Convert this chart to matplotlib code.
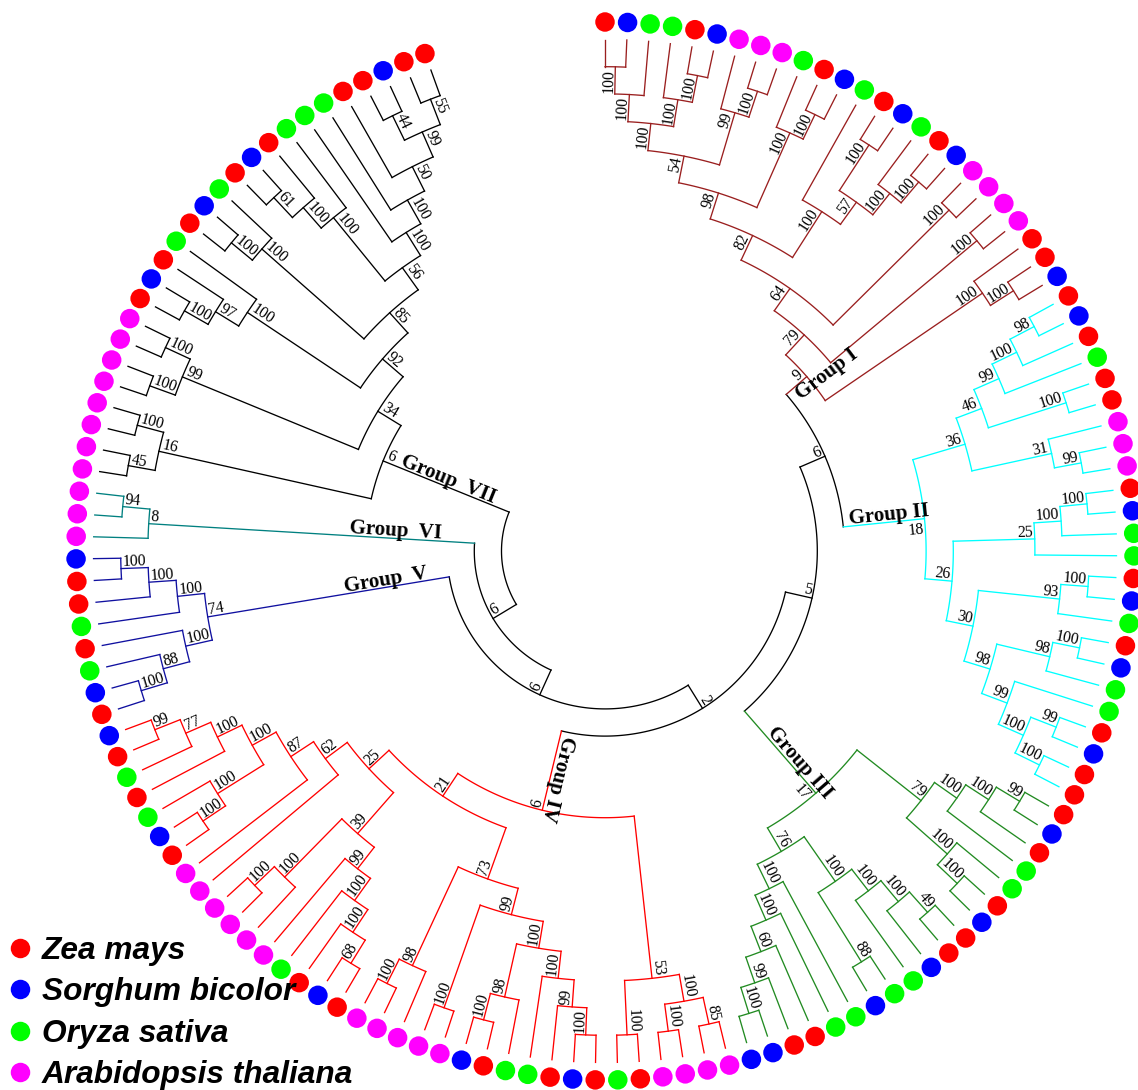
import numpy as np
import matplotlib
matplotlib.use("Agg")
import matplotlib.pyplot as plt
from matplotlib.collections import LineCollection
from matplotlib.lines import Line2D
from matplotlib.font_manager import FontProperties

# ---------------- data ----------------
SPECIES_CODES = ["Z", "S", "O", "A"]
SPECIES_NAMES = ["Zea mays", "Sorghum bicolor", "Oryza sativa", "Arabidopsis thaliana"]
SPECIES_COLORS = ["#FF0000", "#0000FF", "#00FF00", "#FF00FF"]

GROUP_KEYS = ["I", "II", "III", "IV", "V", "VI", "VII"]
GROUP_TITLES = ["Group I", "Group II", "Group III", "Group IV",
                "Group  V", "Group  VI", "Group  VII"]
GROUP_COLORS = ["#9A1F1F", "#00FFFF", "#228B22", "#FF0000",
                "#1010A0", "#008080", "#000000"]

# subtrees (leaf = species code, internal label = bootstrap), leaves in clockwise order
GROUP_I = ("(((((((((Z,S)100,O)100,(O,(Z,S)100)100)100,(A,(A,A)100)99)54,(O,(Z,S)100)100)98,"
           "(O,((Z,S)100,(O,(Z,S)100)100)57)100)82,(A,A)100)64,(A,A)100)79,(Z,(Z,S)100)100)9")
GROUP_II = ("((((((Z,S)98,Z)100,O)99,(Z,Z)100)46,(A,(A,A)99)31)36,"
            "((((Z,S)100,O)100,O)25,(((Z,S)100,O)93,(((Z,S)100,O)98,"
            "(O,((Z,S)99,(Z,Z)100)100)99)98)30)26)18")
GROUP_III = ("(((((Z,S)99,Z)100,O)100,(O,(Z,S)100)100)79,"
             "(((((Z,Z)49,S)100,O)100,(O,S)88)100,(O,(O,(Z,(Z,(S,S)100)99)60)100)100)76)17")
GROUP_IV = ("((((A,A)85,(A,A)100)100,(Z,O)100)53,"
            "(((((((Z,S)100,Z)99,O)100,(O,(Z,S)100)98)100,(A,A)100)99,(A,(A,A)100)98)73,"
            "((((((Z,S)68,Z)100,O)100,A)99,(A,(A,A)100)100)39,"
            "(A,(A,(((Z,S)100,O)100,(Z,(O,(Z,S)99)77)100)100)87)62)25)21)6")
GROUP_V = "((((Z,S)100,O)88,Z)100,(O,(Z,(Z,S)100)100)100)74"
GROUP_VI = "(A,(A,A)94)8"
GROUP_VII = ("(((A,A)45,(A,A)100)16,(((A,A)100,(A,A)100)99,"
             "((((Z,S)100,Z)97,O)100,(((Z,S)100,O)100,"
             "((((Z,S)61,Z)100,O)100,(O,(O,(Z,((Z,S)44,(Z,Z)55)99)50)100)100)56)85)92)34)6")
GROUP_TREES = [GROUP_I, GROUP_II, GROUP_III, GROUP_IV, GROUP_V, GROUP_VI, GROUP_VII]

BACKBONE = "((((((I,II)6,III)5,IV)2,V)6,VI)6,VII)"

# ---------------- layout / style ----------------
W, H = 1138, 1090
CX, CY = 605.0, 551.0
R_TIP = 511.5
STEP = 27.2
R_DOT = 529.0
DOT_DIAM_PX = 19.5
SPAN_DEG = 340.1
LW = 0.95
BOOT_FONT = dict(family="Liberation Serif", size=11.3)
GROUP_FONT = dict(family="Liberation Serif", size=15, weight="bold")
GROUP_LABEL_R = {"I": 283, "II": 286, "III": 288, "IV": 233, "V": 221, "VI": 210, "VII": 172}
GROUP_LABEL_DTHETA = {"I": 3.8}
GROUP_LABEL_FLIP = {"I": False, "II": False, "III": False, "IV": False,
                    "V": True, "VI": True, "VII": True}
ROOT_LABEL_OTHER_SIDE = {"II", "III"}


def parse_newick(s):
    s = s.strip().rstrip(";")
    pos = 0

    def label():
        nonlocal pos
        st = pos
        while pos < len(s) and s[pos] not in "(),":
            pos += 1
        return s[st:pos].strip()

    def node():
        nonlocal pos
        if s[pos] == "(":
            pos += 1
            kids = [node()]
            while s[pos] == ",":
                pos += 1
                kids.append(node())
            pos += 1
            return {"kids": kids, "label": label(), "group": None}
        return {"kids": [], "label": label(), "group": None}

    return node()


def mark(n, g):
    n["group"] = g
    for k in n["kids"]:
        mark(k, g)


root = parse_newick(BACKBONE)
group_roots = {}


def graft(n):
    for i, k in enumerate(n["kids"]):
        if not k["kids"] and k["label"] in GROUP_KEYS:
            g = GROUP_KEYS.index(k["label"])
            sub = parse_newick(GROUP_TREES[g])
            mark(sub, g)
            sub["is_group_root"] = True
            group_roots[g] = sub
            n["kids"][i] = sub
        else:
            graft(k)


graft(root)

leaves = []


def collect(n):
    if not n["kids"]:
        leaves.append(n)
    for k in n["kids"]:
        collect(k)


collect(root)
N = len(leaves)
for i, lf in enumerate(leaves):
    lf["theta"] = i * SPAN_DEG / (N - 1)


def layout(n):
    if not n["kids"]:
        n["h"] = 0
        n["r"] = R_TIP
        return
    for k in n["kids"]:
        layout(k)
    n["h"] = 1 + max(k["h"] for k in n["kids"])
    n["r"] = R_TIP - STEP * n["h"]
    n["theta"] = float(np.mean([k["theta"] for k in n["kids"]]))


layout(root)


def xy(theta_deg, r):
    t = np.deg2rad(theta_deg)
    return CX + r * np.sin(t), CY - r * np.cos(t)


fig = plt.figure(figsize=(W / 100, H / 100), dpi=100)
ax = fig.add_axes([0, 0, 1, 1])
ax.set_xlim(0, W)
ax.set_ylim(H, 0)
ax.set_aspect("equal")
ax.axis("off")

segs, cols = [], []
labels = []


def draw(n, parent_r=None):
    col = GROUP_COLORS[n["group"]] if n["group"] is not None else "black"
    if parent_r is not None:
        x0, y0 = xy(n["theta"], parent_r)
        x1, y1 = xy(n["theta"], n["r"])
        segs.append([(x0, y0), (x1, y1)])
        cols.append(col)
    if n["kids"]:
        a0, a1 = n["kids"][0]["theta"], n["kids"][-1]["theta"]
        ts = np.linspace(a0, a1, max(2, int(abs(a1 - a0) / 0.3) + 2))
        xs, ys = xy(ts, n["r"])
        segs.append(np.column_stack([xs, ys]))
        cols.append(col)
        if parent_r is not None and n["label"]:
            other = bool(n.get("is_group_root")) and GROUP_KEYS[n["group"]] in ROOT_LABEL_OTHER_SIDE
            labels.append((n["label"], n["theta"], n["r"], other))
        for k in n["kids"]:
            draw(k, n["r"])


draw(root)
ax.add_collection(LineCollection(segs, colors=cols, linewidths=LW, capstyle="projecting"))


def radial_text(text, theta, r_anchor, flip, anchor_end, off, font, other_side=False):
    th = theta % 360
    t = np.deg2rad(th)
    rot = 90 - th
    if flip:
        rot += 180
        up = (np.cos(t), np.sin(t))
    else:
        up = (-np.cos(t), -np.sin(t))
    rot = (rot + 180) % 360 - 180
    x, y = xy(th, r_anchor)
    sgn = -1.0 if other_side else 1.0
    x += sgn * off * up[0]
    y += sgn * off * up[1]
    if anchor_end:
        ha = "left" if flip else "right"
    else:
        ha = "center"
    ax.text(x, y, text, rotation=rot, rotation_mode="anchor", ha=ha,
            va="top" if other_side else "baseline", color="black", **font)


for lab, th, r, other in labels:
    flip = 180.0 < (th % 360) < 360.0
    radial_text(lab, th, r - 2.0, flip, True, 2.5, BOOT_FONT, other_side=other)

for g, key in enumerate(GROUP_KEYS):
    n = group_roots[g]
    th = n["theta"] + GROUP_LABEL_DTHETA.get(key, 0.0)
    radial_text(GROUP_TITLES[g], th, GROUP_LABEL_R[key], GROUP_LABEL_FLIP[key],
                False, 2.5, GROUP_FONT)

# leaf dots
lx, ly, lc = [], [], []
for lf in leaves:
    x, y = xy(lf["theta"], R_DOT)
    lx.append(x)
    ly.append(y)
    lc.append(SPECIES_COLORS[SPECIES_CODES.index(lf["label"])])
s_pt = (DOT_DIAM_PX * 72 / 100) ** 2
ax.scatter(lx, ly, s=s_pt, c=lc, edgecolors="none", zorder=3, clip_on=False)

# legend
handles = [Line2D([], [], linestyle="none", marker="o", markersize=DOT_DIAM_PX * 0.72,
                  markerfacecolor=c, markeredgecolor="none") for c in SPECIES_COLORS]
ax.legend(handles, SPECIES_NAMES, loc="lower left", bbox_to_anchor=(4.0 / W, 0.0),
          frameon=False, borderpad=0, borderaxespad=0, handlelength=1.0,
          handletextpad=0.2, labelspacing=0.36,
          prop=FontProperties(family="Liberation Sans", weight="bold", style="italic", size=22.8))

fig.savefig("out.png", dpi=100)
